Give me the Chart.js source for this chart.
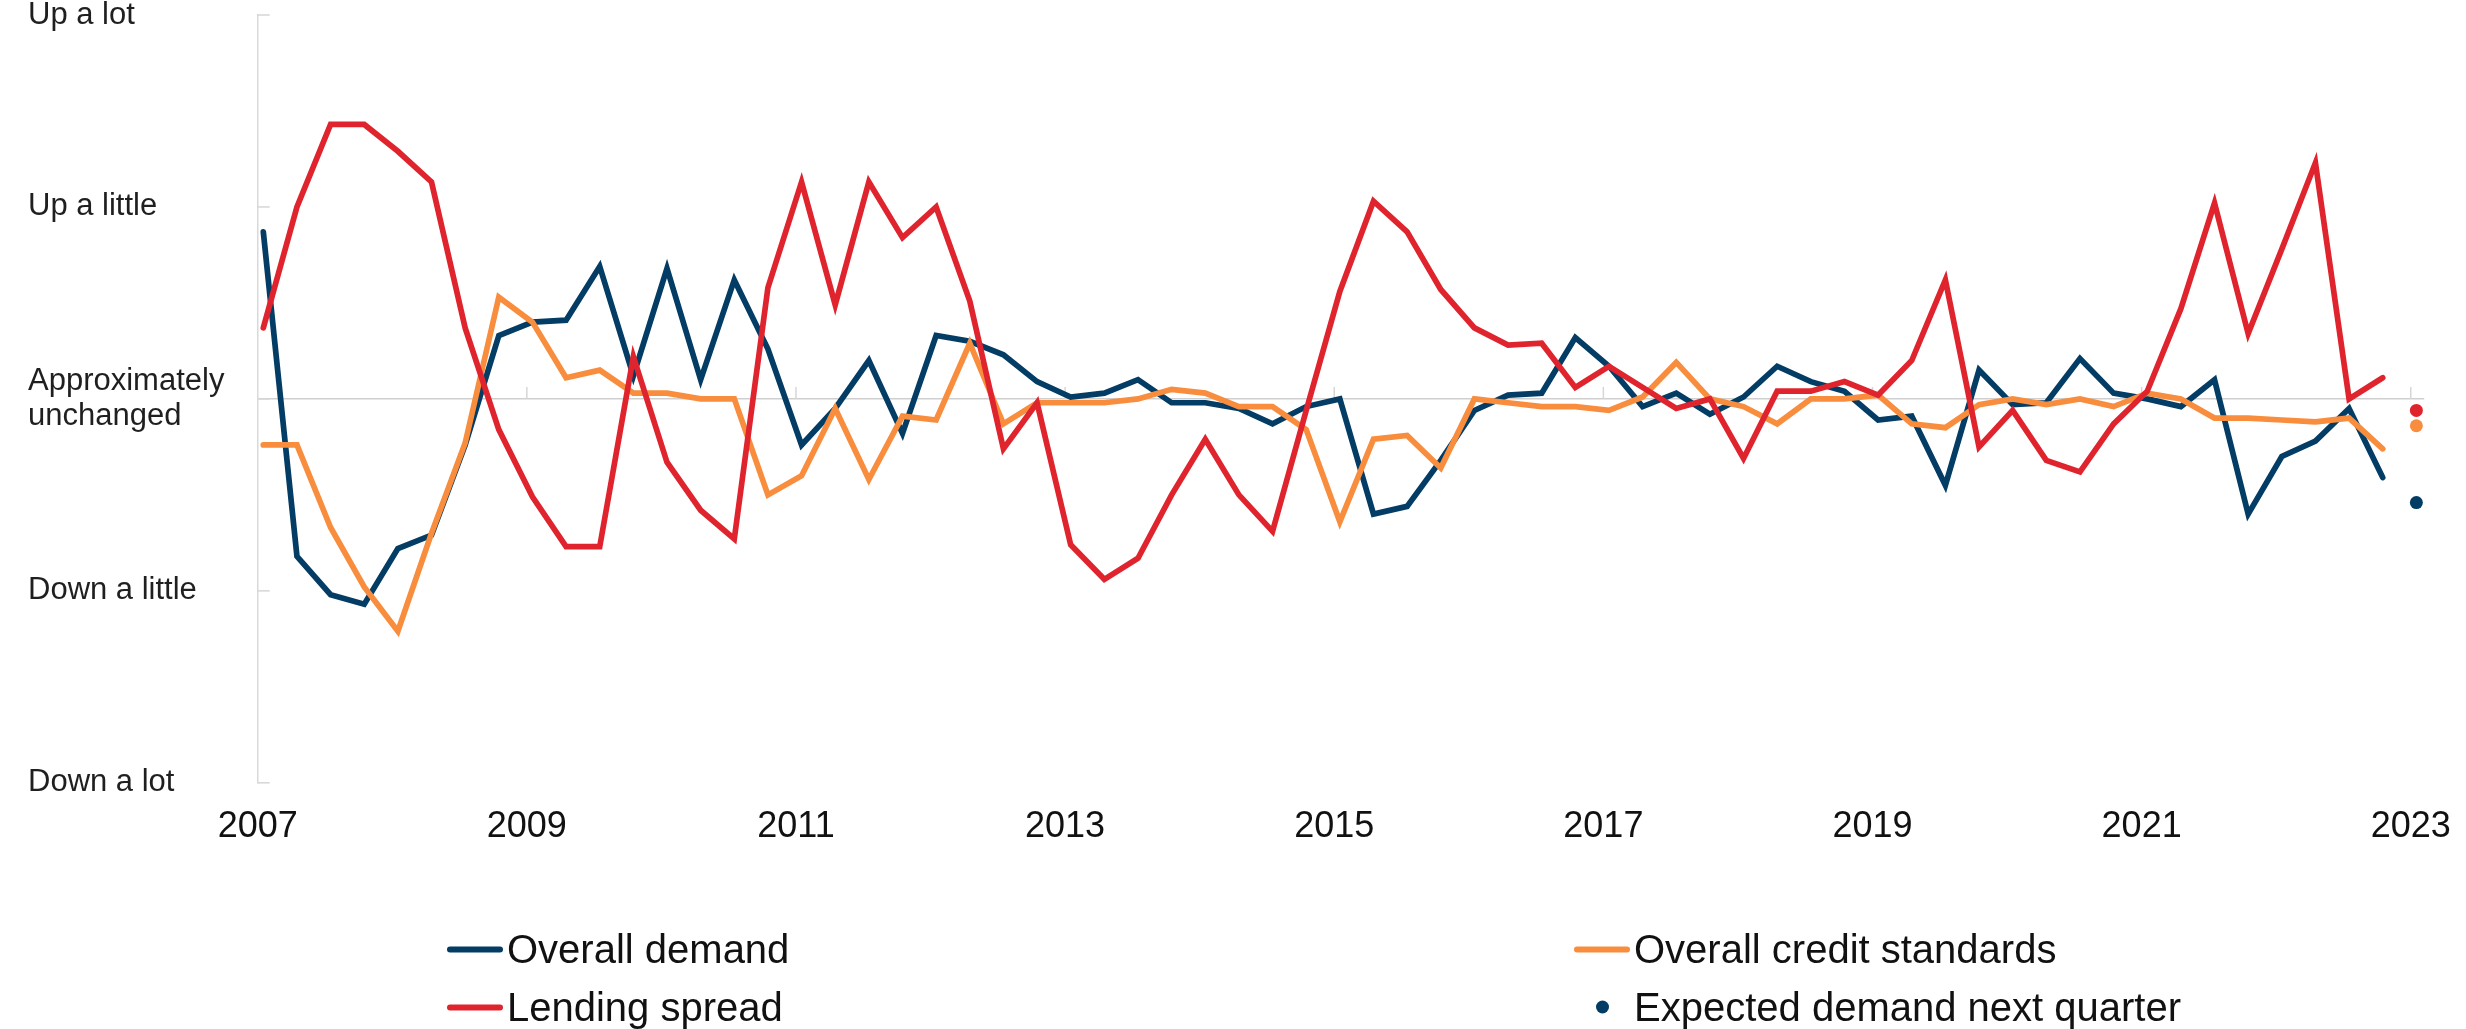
<!DOCTYPE html>
<html>
<head>
<meta charset="utf-8">
<script src="https://cdn.jsdelivr.net/npm/chart.js@4.4.1/dist/chart.umd.min.js"></script>
<style>
    html, body { margin: 0; padding: 0; background: #fff; }
    #wrap { position: relative; width: 2466px; height: 1029px; }
    #legend { position: absolute; left: 0; top: 0; width: 100%; height: 100%; pointer-events: none;
        font-family: "Liberation Sans", Arial, sans-serif; font-size: 40px; color: #111; }
    .item { position: absolute; display: flex; align-items: center; white-space: nowrap; transform: translateY(-50%); }
    .mark { width: 58px; height: 40px; display: flex; align-items: center; justify-content: center; margin-right: 3px; }
    .mark .line { width: 56px; height: 6px; border-radius: 3px; }
    .mark .dot { width: 13px; height: 13px; border-radius: 50%; }
</style>
</head>
<body>
<div id="wrap">
    <canvas id="chart" width="2466" height="1029"></canvas>
    <div id="legend"></div>
</div>
<script>
// quarterly series, 2007Q1 .. 2022Q4
var startYear = 2007;
var xTickYears = [2007, 2009, 2011, 2013, 2015, 2017, 2019, 2021, 2023];
var yTickValues = [-2, -1, 0, 1, 2];
var yTickLabels = ['Down a lot', 'Down a little', ['Approximately', 'unchanged'], 'Up a little', 'Up a lot'];

var overallDemand = [
    0.87, -0.82, -1.02, -1.07, -0.78, -0.71, -0.24, 0.33,
    0.40, 0.41, 0.69, 0.12, 0.68, 0.10, 0.62, 0.26,
    -0.24, -0.05, 0.20, -0.18, 0.33, 0.30, 0.23, 0.09,
    0.01, 0.03, 0.10, -0.02, -0.02, -0.05, -0.13, -0.04,
    0.00, -0.60, -0.56, -0.32, -0.06, 0.02, 0.03, 0.32,
    0.17, -0.04, 0.03, -0.08, 0.01, 0.17, 0.09, 0.04,
    -0.11, -0.09, -0.45, 0.15, -0.03, -0.02, 0.21, 0.03,
    0.00, -0.04, 0.10, -0.60, -0.30, -0.22, -0.05, -0.41
];
var creditStandards = [
    -0.24, -0.24, -0.67, -0.98, -1.21, -0.70, -0.23, 0.53,
    0.40, 0.11, 0.15, 0.03, 0.03, 0.00, 0.00, -0.50,
    -0.40, -0.05, -0.42, -0.09, -0.11, 0.29, -0.13, -0.02,
    -0.02, -0.02, 0.00, 0.05, 0.03, -0.04, -0.04, -0.16,
    -0.64, -0.21, -0.19, -0.36, 0.00, -0.02, -0.04, -0.04,
    -0.06, 0.01, 0.19, 0.00, -0.04, -0.13, 0.00, 0.00,
    0.02, -0.13, -0.15, -0.03, 0.00, -0.03, 0.00, -0.04,
    0.03, 0.00, -0.10, -0.10, -0.11, -0.12, -0.10, -0.26
];
var lendingSpread = [
    0.37, 1.00, 1.43, 1.43, 1.29, 1.13, 0.37, -0.16,
    -0.51, -0.77, -0.77, 0.22, -0.33, -0.58, -0.73, 0.58,
    1.13, 0.49, 1.13, 0.84, 1.00, 0.51, -0.26, -0.02,
    -0.76, -0.94, -0.83, -0.50, -0.21, -0.50, -0.69, -0.06,
    0.56, 1.03, 0.87, 0.57, 0.37, 0.28, 0.29, 0.06,
    0.17, 0.06, -0.05, 0.00, -0.31, 0.04, 0.04, 0.09,
    0.02, 0.20, 0.62, -0.25, -0.06, -0.32, -0.38, -0.13,
    0.04, 0.47, 1.02, 0.34, 0.78, 1.23, 0.00, 0.11
];
// expectations for next quarter (2023Q1)
var expectedDemand = [-0.54];
var expectedSpread = [-0.06];
var expectedStandards = [-0.14];

var navy = '#033c64';
var red = '#e0242e';
var orange = '#f98d3e';

// x position of quarter i (plotted half a month into the quarter)
function qx(i) { return startYear + i / 4 + 1 / 24; }
function toPoints(arr, first) {
    return arr.map(function (v, i) { return { x: qx(first + i), y: v }; });
}

Chart.defaults.font.family = '"Liberation Sans", Arial, sans-serif';
Chart.defaults.color = '#1f1f1f';

var lineDefaults = {
    type: 'line', borderWidth: 5.7, pointRadius: 0, tension: 0,
    borderJoinStyle: 'miter', borderCapStyle: 'round', fill: false
};
function dots(label, arr, color, showInLegend) {
    return {
        type: 'line', label: label, data: toPoints(arr, overallDemand.length),
        showLine: false, pointRadius: 6.5, pointBackgroundColor: color,
        pointBorderWidth: 0, borderColor: color, backgroundColor: color,
        order: 0, inLegend: showInLegend, dot: true
    };
}

var datasets = [
    Object.assign({}, lineDefaults, { label: 'Overall demand', data: toPoints(overallDemand, 0),
        borderColor: navy, backgroundColor: navy, order: 3, inLegend: true }),
    Object.assign({}, lineDefaults, { label: 'Overall credit standards', data: toPoints(creditStandards, 0),
        borderColor: orange, backgroundColor: orange, order: 2, inLegend: true }),
    Object.assign({}, lineDefaults, { label: 'Lending spread', data: toPoints(lendingSpread, 0),
        borderColor: red, backgroundColor: red, order: 1, inLegend: true }),
    dots('Expected demand next quarter', expectedDemand, navy, true),
    dots('Expected lending spread', expectedSpread, red, false),
    dots('Expected credit standards', expectedStandards, orange, false)
];

// short tick marks: inside the y axis and up from the zero line
var axisMarks = {
    id: 'axisMarks',
    beforeDatasetsDraw: function (chart) {
        var ctx = chart.ctx, x = chart.scales.x, y = chart.scales.y;
        ctx.save();
        ctx.strokeStyle = '#d6d6d6';
        ctx.lineWidth = 1.5;
        y.ticks.forEach(function (t) {
            var py = y.getPixelForValue(t.value);
            ctx.beginPath(); ctx.moveTo(x.left, py); ctx.lineTo(x.left + 12, py); ctx.stroke();
        });
        var zy = y.getPixelForValue(0);
        x.ticks.forEach(function (t) {
            if (t.value === startYear) return;
            var px = x.getPixelForValue(t.value);
            ctx.beginPath(); ctx.moveTo(px, zy); ctx.lineTo(px, zy - 12); ctx.stroke();
        });
        ctx.restore();
    }
};

var chart = new Chart(document.getElementById('chart'), {
    data: { datasets: datasets },
    plugins: [axisMarks],
    options: {
        responsive: false,
        animation: false,
        layout: { padding: { left: 28, right: 32, top: 0, bottom: 165 } },
        plugins: { legend: { display: false }, tooltip: { enabled: false } },
        scales: {
            x: {
                type: 'linear',
                min: startYear,
                max: 2023.1,
                afterBuildTicks: function (s) { s.ticks = xTickYears.map(function (v) { return { value: v }; }); },
                grid: { display: false },
                border: { display: false },
                ticks: {
                    font: { size: 36 }, color: '#111', padding: 15, maxRotation: 0, autoSkip: false,
                    callback: function (v) { return String(v); }
                }
            },
            y: {
                min: -2,
                max: 2,
                afterBuildTicks: function (s) { s.ticks = yTickValues.map(function (v) { return { value: v }; }); },
                afterFit: function (s) { s.width = 229.7; s.paddingTop = 15; s.paddingBottom = 15; },
                grid: {
                    drawTicks: false,
                    lineWidth: 1.5,
                    color: function (c) { return c.tick && c.tick.value === 0 ? '#cfcfcf' : 'rgba(0,0,0,0)'; }
                },
                border: { color: '#d9d9d9', width: 1.5 },
                ticks: {
                    crossAlign: 'far', font: { size: 31, lineHeight: 1.15 }, color: '#1f1f1f', autoSkip: false,
                    callback: function (v) { return yTickLabels[yTickValues.indexOf(v)]; }
                }
            }
        }
    }
});

// legend in two columns under the plot
var legendCols = [446, 1573];
var legendRows = [949, 1007];
var legend = document.getElementById('legend');
datasets.filter(function (d) { return d.inLegend; }).forEach(function (d, i) {
    var item = document.createElement('div');
    item.className = 'item';
    item.style.left = legendCols[i % 2] + 'px';
    item.style.top = legendRows[Math.floor(i / 2)] + 'px';
    var mark = document.createElement('span');
    mark.className = 'mark';
    var sym = document.createElement('span');
    sym.className = d.dot ? 'dot' : 'line';
    sym.style.background = d.borderColor;
    mark.appendChild(sym);
    item.appendChild(mark);
    item.appendChild(document.createTextNode(d.label));
    legend.appendChild(item);
});
</script>
</body>
</html>
